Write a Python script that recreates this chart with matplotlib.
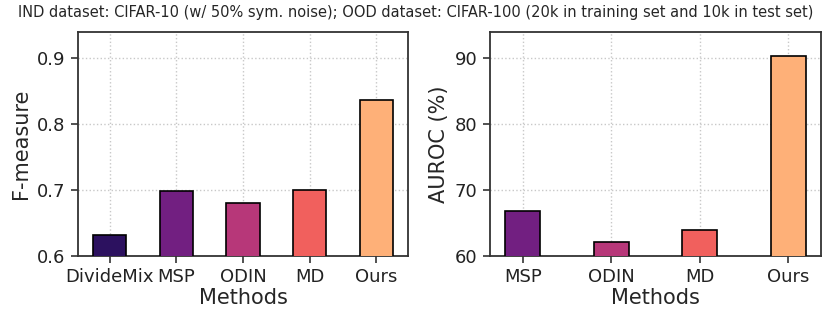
import matplotlib
matplotlib.use("Agg")
import matplotlib.pyplot as plt
import seaborn as sns

sns.set_style("ticks")
plt.rcParams["font.family"] = ["DejaVu Sans"]

methods_f = ["DivideMix", "MSP", "ODIN", "MD", "Ours"]
fmeasure = [0.632, 0.698, 0.680, 0.700, 0.837]

methods_auc = ["MSP", "ODIN", "MD", "Ours"]
auroc = [66.9, 62.2, 63.9, 90.3]

colors = sns.color_palette("magma", 5)

fig = plt.figure(figsize=(8.31, 3.24), dpi=100)
ax1 = fig.add_axes([78 / 831, 1 - 256 / 324, 330 / 831, 224 / 324])
ax2 = fig.add_axes([490 / 831, 1 - 256 / 324, 331 / 831, 224 / 324])

ax1.bar(range(len(methods_f)), fmeasure, width=0.5, color=colors,
        edgecolor="black", linewidth=1.2, zorder=3)
ax1.set_xticks(range(len(methods_f)))
ax1.set_xticklabels(methods_f)
ax1.set_ylim(0.6, 0.94)
ax1.set_yticks([0.6, 0.7, 0.8, 0.9])
ax1.set_ylabel("F-measure", fontsize=15)
ax1.set_xlabel("Methods", fontsize=15, labelpad=1)

ax2.bar(range(len(methods_auc)), auroc, width=0.4, color=colors[1:],
        edgecolor="black", linewidth=1.2, zorder=3)
ax2.set_xticks(range(len(methods_auc)))
ax2.set_xticklabels(methods_auc)
ax2.set_ylim(60, 94)
ax2.set_yticks([60, 70, 80, 90])
ax2.set_ylabel("AUROC (%)", fontsize=15)
ax2.set_xlabel("Methods", fontsize=15, labelpad=1)

for ax in (ax1, ax2):
    ax.grid(True, linestyle=":", color="#c8c8c8", linewidth=1, zorder=0)
    ax.tick_params(labelsize=13, length=5, width=1.2, pad=4, color="#333333", labelcolor="#222222")
    for s in ax.spines.values():
        s.set_color("#333333")
        s.set_linewidth(1.3)

fig.text(0.5, 1 - 12 / 324, "IND dataset: CIFAR-10 (w/ 50% sym. noise); OOD dataset: CIFAR-100 (20k in training set and 10k in test set)",
         ha="center", va="center", fontsize=10.5)

fig.savefig("out.png", dpi=100)
